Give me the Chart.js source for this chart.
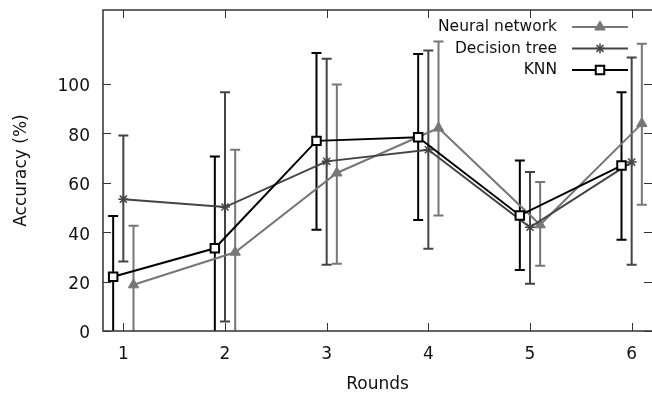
<!DOCTYPE html>
<html>
<head>
<meta charset="utf-8">
<script src="https://cdn.jsdelivr.net/npm/chart.js@4"></script>
<style>
  html, body { margin: 0; padding: 0; background: #fff; }
  #wrap { width: 652px; height: 396px; }
</style>
</head>
<body>
<div id="wrap"><canvas id="chart" width="652" height="396"></canvas></div>
<script>
// rounds on the x axis, ticks
const rounds = [1, 2, 3, 4, 5, 6];
const xTicks = [1, 2, 3, 4, 5, 6];
const yTicks = [0, 20, 40, 60, 80, 100];
const seriesNames = ["Neural network", "Decision tree", "KNN"];

// mean accuracy (%) and error bar ends
const nnAcc  = [18.7, 31.9, 64.0, 82.2, 43.0, 84.0];
const nnLow  = [-6, -10, 27.2, 46.8, 26.4, 51.1];
const nnHigh = [42.6, 73.4, 99.8, 117.2, 60.3, 116.3];

const dtAcc  = [53.4, 50.2, 68.7, 73.4, 42.0, 68.4];
const dtLow  = [28.1, 3.8, 26.8, 33.3, 19.1, 26.8];
const dtHigh = [79.2, 96.7, 110.3, 113.6, 64.4, 110.8];

const knnAcc  = [22.0, 33.5, 77.0, 78.5, 46.8, 67.0];
const knnLow  = [-3, -4, 41.0, 45.0, 24.7, 37.0];
const knnHigh = [46.6, 70.7, 112.6, 112.2, 69.0, 96.7];

const FONT = "DejaVu Sans";
const colors = { nn: "#777777", dt: "#444444", knn: "#000000" };
const offsets = { nn: 0.1, dt: 0, knn: -0.1 }; // series are shifted a little around each round

function points(vals, off) {
  return rounds.map((r, i) => ({ x: r + off, y: vals[i] }));
}

const series = [
  { key: "knn", label: seriesNames[2], acc: knnAcc, low: knnLow, high: knnHigh, style: "rect", radius: 6, fill: "#ffffff", bw: 2 },
  { key: "dt", label: seriesNames[1], acc: dtAcc, low: dtLow, high: dtHigh, style: "star", radius: 5, fill: colors.dt, bw: 1.5 },
  { key: "nn", label: seriesNames[0], acc: nnAcc, low: nnLow, high: nnHigh, style: "triangle", radius: 6, fill: colors.nn, bw: 1 },
];

// error bars, drawn under the lines
const errorBars = {
  id: "errorBars",
  beforeDatasetsDraw(chart) {
    const { ctx, chartArea, scales } = chart;
    ctx.save();
    ctx.beginPath();
    ctx.rect(chartArea.left, chartArea.top, chartArea.width, chartArea.height);
    ctx.clip();
    ctx.lineWidth = 2;
    series.forEach((s) => {
      ctx.strokeStyle = colors[s.key];
      rounds.forEach((r, i) => {
        const x = scales.x.getPixelForValue(r + offsets[s.key]);
        const y1 = scales.y.getPixelForValue(s.low[i]);
        const y2 = scales.y.getPixelForValue(s.high[i]);
        ctx.beginPath();
        ctx.moveTo(x, y1);
        ctx.lineTo(x, y2);
        ctx.moveTo(x - 5, y1);
        ctx.lineTo(x + 5, y1);
        ctx.moveTo(x - 5, y2);
        ctx.lineTo(x + 5, y2);
        ctx.stroke();
      });
    });
    ctx.restore();
  },
};

// frame, inward ticks on all four sides, and the legend in the top right
const frameAndLegend = {
  id: "frameAndLegend",
  afterDraw(chart) {
    const { ctx, chartArea: a, scales } = chart;
    ctx.save();
    ctx.strokeStyle = "#333333";
    ctx.lineWidth = 1.5;
    // right edge of the frame falls just outside the canvas
    ctx.beginPath();
    ctx.moveTo(a.right + 2, a.top);
    ctx.lineTo(a.left, a.top);
    ctx.lineTo(a.left, a.bottom);
    ctx.lineTo(a.right + 2, a.bottom);
    ctx.stroke();
    ctx.beginPath();
    xTicks.forEach((v) => {
      const x = Math.round(scales.x.getPixelForValue(v)) + 0.5;
      ctx.moveTo(x, a.bottom);
      ctx.lineTo(x, a.bottom - 8);
      ctx.moveTo(x, a.top);
      ctx.lineTo(x, a.top + 8);
    });
    yTicks.forEach((v) => {
      const y = Math.round(scales.y.getPixelForValue(v)) + 0.5;
      ctx.moveTo(a.left, y);
      ctx.lineTo(a.left + 8, y);
      ctx.moveTo(a.right, y);
      ctx.lineTo(a.right - 8, y);
    });
    ctx.lineWidth = 1;
    ctx.stroke();

    // legend
    const order = [series[2], series[1], series[0]];
    ctx.font = "15.5px '" + FONT + "'";
    ctx.textAlign = "right";
    ctx.textBaseline = "middle";
    order.forEach((s, i) => {
      const y = 27 + i * 21.5;
      ctx.fillStyle = "#111111";
      ctx.fillText(s.label, 557, y);
      ctx.strokeStyle = colors[s.key];
      ctx.lineWidth = 2;
      ctx.beginPath();
      ctx.moveTo(572, y);
      ctx.lineTo(628, y);
      ctx.stroke();
      ctx.fillStyle = s.fill;
      ctx.lineWidth = s.bw;
      Chart.helpers.drawPoint(ctx, { pointStyle: s.style, radius: s.radius, rotation: 0, borderWidth: s.bw }, 600, y);
    });
    ctx.restore();
  },
};

const tickFont = { family: FONT, size: 17 };

new Chart(document.getElementById("chart"), {
  type: "line",
  data: {
    datasets: series.map((s) => ({
      label: s.label,
      data: points(s.acc, offsets[s.key]),
      borderColor: colors[s.key],
      backgroundColor: s.fill,
      borderWidth: 2,
      pointStyle: s.style,
      pointRadius: s.radius,
      pointBorderWidth: s.bw,
      pointBorderColor: colors[s.key],
      pointBackgroundColor: s.fill,
      tension: 0,
      fill: false,
    })),
  },
  options: {
    responsive: false,
    animation: false,
    layout: { autoPadding: false, padding: { top: 10, right: 0, left: 0, bottom: 0 } },
    plugins: {
      legend: { display: false },
      tooltip: { enabled: false },
    },
    scales: {
      x: {
        type: "linear",
        min: 0.8,
        max: 6.2,
        afterBuildTicks: (s) => { s.ticks = xTicks.map((v) => ({ value: v })); },
        afterFit: (s) => { s.height = 65; s.paddingLeft = 0; s.paddingRight = 0; },
        grid: { display: false, drawTicks: false },
        border: { display: false },
        ticks: { autoSkip: false, padding: 13, color: "#111111", font: tickFont, maxRotation: 0 },
        title: { display: true, text: "Rounds", color: "#111111", font: tickFont, padding: { top: 0, bottom: 1 } },
      },
      y: {
        min: 0,
        max: 130,
        afterBuildTicks: (s) => { s.ticks = yTicks.map((v) => ({ value: v })); },
        afterFit: (s) => { s.width = 103; s.paddingTop = 0; s.paddingBottom = 0; },
        grid: { display: false, drawTicks: false },
        border: { display: false },
        ticks: { autoSkip: false, padding: 13, labelOffset: 3, color: "#111111", font: tickFont },
        title: { display: true, text: "Accuracy (%)", color: "#111111", font: tickFont, padding: { top: 11, bottom: 0 } },
      },
    },
  },
  plugins: [errorBars, frameAndLegend],
});
</script>
</body>
</html>
